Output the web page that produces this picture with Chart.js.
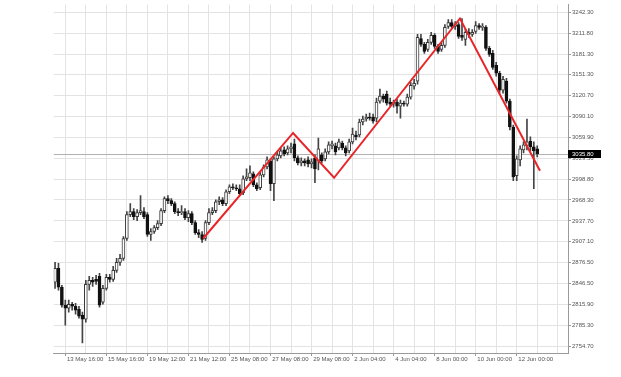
<!DOCTYPE html>
<html>
<head>
<meta charset="utf-8">
<script src="https://cdn.jsdelivr.net/npm/chart.js@4"></script>
<style>
  html, body { margin: 0; padding: 0; background: #fff; }
</style>
</head>
<body>
<canvas id="chart" width="621" height="377"></canvas>
<script>
// H4 candles (bar index 0..141)
const opens = [2847.9,2868.2,2840.6,2814.4,2810.0,2815.8,2812.9,2808.5,2799.8,2794.0,2844.9,2850.8,2852.2,2856.6,2818.7,2839.1,2855.1,2852.2,2865.3,2877.0,
  2882.8,2911.9,2946.8,2951.2,2943.9,2949.7,2951.2,2946.8,2917.7,2922.1,2927.9,2933.7,2952.7,2970.1,2967.2,2962.8,2951.2,2949.7,2951.2,2942.5,
  2948.3,2935.2,2920.6,2917.7,2911.9,2935.2,2949.7,2952.7,2965.7,2968.6,2962.8,2980.3,2987.6,2986.1,2984.7,2978.8,2999.2,3000.7,3006.5,2990.5,
  2986.1,3005.0,3016.7,3025.4,2991.9,3028.3,3032.7,3041.4,3037.1,3042.9,3050.2,3029.8,3022.5,3025.4,3026.9,3021.1,3029.8,3025.4,3034.2,3028.3,
  3038.5,3047.3,3047.3,3044.3,3051.6,3044.3,3040.0,3053.1,3063.3,3063.3,3082.2,3086.6,3089.5,3089.5,3088.0,3112.8,3120.0,3122.9,3111.3,3108.4,
  3111.3,3105.5,3109.8,3108.4,3118.6,3134.6,3141.9,3204.4,3195.7,3188.4,3198.6,3208.8,3192.8,3188.4,3194.3,3221.9,3227.7,3221.9,3224.8,3208.8,
  3203.0,3213.2,3210.3,3214.6,3223.4,3220.5,3220.5,3189.9,3182.6,3165.1,3153.5,3128.8,3141.9,3112.8,3074.9,3003.6,3026.9,3041.4,3047.3,3054.5,
  3045.8,3042.9];
const highs = [2877.0,2875.5,2843.5,2821.7,2821.7,2818.7,2817.3,2812.9,2804.2,2850.8,2856.6,2855.1,2858.1,2861.0,2843.5,2859.5,2859.5,2871.2,2882.8,2888.6,
  2914.8,2951.2,2962.8,2955.6,2954.1,2974.5,2957.0,2949.7,2926.4,2930.8,2938.1,2955.6,2973.0,2974.5,2970.1,2965.7,2955.6,2959.9,2955.6,2952.7,
  2951.2,2938.1,2925.0,2922.1,2938.1,2955.6,2957.0,2968.6,2973.0,2971.6,2983.2,2990.5,2991.9,2990.5,2990.5,3003.6,3013.8,3018.1,3009.4,2993.4,
  3009.4,3019.6,3031.2,3028.3,3031.2,3038.5,3044.3,3045.8,3047.3,3051.6,3057.4,3032.7,3029.8,3028.3,3031.2,3028.3,3034.2,3058.9,3037.1,3042.9,
  3053.1,3054.5,3051.6,3057.4,3054.5,3047.3,3057.4,3073.5,3069.1,3086.6,3090.9,3093.8,3095.3,3093.8,3117.1,3130.2,3122.9,3127.3,3117.1,3114.2,
  3115.7,3114.2,3112.8,3122.9,3140.4,3144.8,3210.3,3210.3,3198.6,3203.0,3213.2,3211.7,3195.7,3198.6,3224.8,3232.1,3232.1,3229.2,3227.7,3233.6,
  3217.5,3219.0,3217.5,3229.2,3226.3,3226.3,3223.4,3192.8,3187.0,3169.5,3156.4,3149.1,3146.2,3115.7,3077.8,3032.7,3047.3,3053.1,3086.6,3060.4,
  3053.1,3047.3];
const lows = [2839.1,2836.2,2811.5,2785.3,2804.2,2807.1,2801.3,2795.4,2759.1,2789.6,2836.2,2842.0,2844.9,2811.5,2815.8,2836.2,2847.9,2849.3,2862.4,2872.6,
  2879.9,2909.0,2943.9,2939.5,2938.1,2946.8,2941.0,2914.8,2909.0,2919.2,2925.0,2930.8,2949.7,2962.8,2959.9,2948.3,2945.4,2946.8,2939.5,2936.6,
  2932.3,2917.7,2913.3,2906.0,2909.0,2932.3,2946.8,2949.7,2961.4,2959.9,2959.9,2977.4,2983.2,2981.8,2974.5,2975.9,2996.3,2996.3,2987.6,2981.8,
  2983.2,3002.1,3013.8,2981.8,2967.2,3025.4,3029.8,3032.7,3034.2,3037.1,3025.4,3019.6,3018.1,3018.1,3016.7,3015.2,2993.4,3012.3,3022.5,3025.4,
  3035.6,3042.9,3034.2,3041.4,3041.4,3032.7,3037.1,3050.2,3056.0,3060.4,3077.8,3083.6,3085.1,3080.7,3082.2,3109.8,3111.3,3106.9,3105.5,3104.0,
  3095.3,3088.0,3105.5,3105.5,3115.7,3130.2,3137.5,3192.8,3182.6,3185.5,3195.7,3189.9,3182.6,3185.5,3191.4,3219.0,3219.0,3217.5,3204.4,3201.5,
  3194.3,3205.9,3207.4,3211.7,3217.5,3216.1,3187.0,3178.2,3159.3,3149.1,3124.4,3124.4,3109.8,3070.5,2996.3,2996.3,3018.1,3037.1,3041.4,3040.0,
  2984.7,3031.2];
const closes = [2868.2,2840.6,2814.4,2810.0,2815.8,2812.9,2807.1,2798.4,2794.0,2844.9,2850.8,2847.9,2849.3,2814.4,2839.1,2855.1,2852.2,2865.3,2877.0,2882.8,
  2911.9,2946.8,2951.2,2943.9,2949.7,2952.7,2943.9,2917.7,2922.1,2927.9,2933.7,2952.7,2970.1,2967.2,2962.8,2951.2,2949.7,2951.2,2942.5,2948.3,
  2935.2,2920.6,2917.7,2910.4,2935.2,2949.7,2952.7,2965.7,2968.6,2962.8,2980.3,2987.6,2986.1,2984.7,2977.4,2999.2,3002.1,3007.9,2990.5,2984.7,
  3005.0,3016.7,3026.9,2991.9,3028.3,3034.2,3040.0,3035.6,3042.9,3045.8,3029.8,3022.5,3025.4,3022.5,3021.1,3024.0,3013.8,3042.9,3025.4,3038.5,
  3048.7,3050.2,3038.5,3053.1,3044.3,3037.1,3053.1,3064.7,3060.4,3082.2,3086.6,3089.5,3088.0,3083.6,3111.3,3120.0,3115.7,3109.8,3108.4,3111.3,
  3105.5,3109.8,3108.4,3118.6,3136.0,3138.9,3205.9,3195.7,3185.5,3198.6,3208.8,3192.8,3185.5,3194.3,3220.5,3227.7,3221.9,3224.8,3207.4,3205.9,
  3213.2,3210.3,3213.2,3223.4,3220.5,3221.9,3189.9,3181.2,3162.2,3153.5,3128.8,3144.8,3112.8,3074.9,3002.1,3028.3,3042.9,3048.7,3053.1,3045.8,
  3040.0,3035.8];

// time axis labels (bar index where each label sits)
const xTickBars = [3, 15, 27, 39, 51, 63, 75, 87, 99, 111, 123, 135];
const xTickText = ['13 May 16:00', '15 May 16:00', '19 May 12:00', '21 May 12:00', '25 May 08:00', '27 May 08:00',
  '29 May 08:00', '2 Jun 04:00', '4 Jun 04:00', '8 Jun 00:00', '10 Jun 00:00', '12 Jun 00:00'];
// vertical grid every 6 bars
const xGridBars = [3, 9, 15, 21, 27, 33, 39, 45, 51, 57, 63, 69, 75, 81, 87, 93, 99, 105, 111, 117, 123, 129, 135, 141, 147];

// price axis labels
const yTicks = [3242.30, 3211.80, 3181.30, 3151.30, 3120.70, 3090.10, 3059.90, 3029.50, 2998.80,
  2968.30, 2937.70, 2907.10, 2876.50, 2846.50, 2815.90, 2785.30, 2754.70];

// red zigzag
const zigBars = [43.3, 69.6, 81.6, 118.4, 141.8];
const zigPrices = [2911.9, 3066.2, 3000.7, 3233.6, 3010.9];

const FONT = { size: 6, family: '"Liberation Sans", Arial, sans-serif' };
const LABEL = '#555';
const AXIS = '#9a9a9a';
const GRID = '#e3e3e3';
const NONE = 'rgba(0,0,0,0)';

const bull = opens.map((o, i) => closes[i] >= o);
const bodies = opens.map((o, i) => ({ x: i, y: [Math.min(o, closes[i]), Math.max(o, closes[i])] }));
const wicks = highs.map((h, i) => ({ x: i, y: [lows[i], h] }));
const zigzag = zigBars.map((b, i) => ({ x: b, y: zigPrices[i] }));

// bid line, last price box, and no frame line on the left edge
const priceTag = {
  id: 'priceTag',
  beforeDatasetsDraw(chart) {
    const { ctx, chartArea, scales } = chart;
    const y = Math.round(scales.y.getPixelForValue(closes[closes.length - 1])) + 0.5;
    ctx.save();
    ctx.strokeStyle = '#b0b0b0';
    ctx.lineWidth = 1;
    ctx.beginPath();
    ctx.moveTo(chartArea.left, y);
    ctx.lineTo(chartArea.right, y);
    ctx.stroke();
    ctx.restore();
  },
  afterDatasetsDraw(chart) {
    const { ctx, chartArea } = chart;
    ctx.save();
    ctx.fillStyle = '#fff';
    ctx.fillRect(chartArea.left - 2, chartArea.top - 3, 2.5, chartArea.bottom - chartArea.top + 2);
    ctx.restore();
  },
  afterDraw(chart) {
    const { ctx, chartArea, scales } = chart;
    const last = closes[closes.length - 1];
    const y = Math.round(scales.y.getPixelForValue(last));
    ctx.save();
    ctx.fillStyle = '#fff';
    ctx.fillRect(chartArea.left - 2, chartArea.top - 3, 2.5, chartArea.bottom - chartArea.top + 2);
    ctx.fillStyle = '#000';
    ctx.fillRect(chartArea.right, y - 4, 33, 8);
    ctx.fillStyle = '#fff';
    ctx.font = '6px "Liberation Sans", Arial, sans-serif';
    ctx.textBaseline = 'middle';
    ctx.fillText(last.toFixed(2), chartArea.right + 4, y);
    ctx.restore();
  }
};

const isLabelTick = c => c.tick && xTickBars.includes(c.tick.value);

new Chart(document.getElementById('chart'), {
  type: 'bar',
  data: {
    datasets: [
      {
        type: 'line',
        data: zigzag,
        borderColor: '#e8262a',
        borderWidth: 2,
        pointRadius: 0,
        tension: 0,
        order: 0,
      },
      {
        data: bodies,
        backgroundColor: bull.map(b => b ? '#ffffff' : '#111111'),
        borderColor: bull.map(b => b ? '#3a3a3a' : '#111111'),
        borderWidth: 1,
        borderSkipped: false,
        barThickness: 3,
        minBarLength: 1,
        grouped: false,
        order: 1,
      },
      {
        data: wicks,
        backgroundColor: '#444',
        barThickness: 1,
        grouped: false,
        order: 2,
      },
    ],
  },
  options: {
    responsive: false,
    animation: false,
    events: [],
    layout: { padding: { left: 53, top: 3, right: 0, bottom: 0 } },
    plugins: { legend: { display: false }, tooltip: { enabled: false } },
    scales: {
      x: {
        type: 'linear',
        min: -0.6,
        max: 150,
        offset: false,
        afterFit(s) { s.height = 24; },
        afterBuildTicks(s) { s.ticks = xGridBars.map(v => ({ value: v })); },
        ticks: {
          autoSkip: false,
          maxRotation: 0,
          align: 'start',
          padding: 0,
          font: FONT,
          color: LABEL,
          callback: v => xTickBars.includes(v) ? ' ' + xTickText[xTickBars.indexOf(v)] : '',
        },
        grid: {
          color: c => c.tick ? GRID : NONE,
          tickColor: c => isLabelTick(c) ? AXIS : NONE,
          tickLength: 3,
          offset: false,
        },
        border: { color: AXIS },
      },
      y: {
        position: 'right',
        min: 2744.5,
        max: 3253.9,
        bounds: 'data',
        afterFit(s) { s.width = 53; },
        afterBuildTicks(s) { s.ticks = yTicks.map(v => ({ value: v })); },
        ticks: {
          padding: 1,
          font: FONT,
          color: LABEL,
          callback: v => v.toFixed(2),
        },
        grid: { color: GRID, tickColor: AXIS, tickLength: 3 },
        border: { color: AXIS },
      },
    },
  },
  plugins: [priceTag],
});
</script>
</body>
</html>
